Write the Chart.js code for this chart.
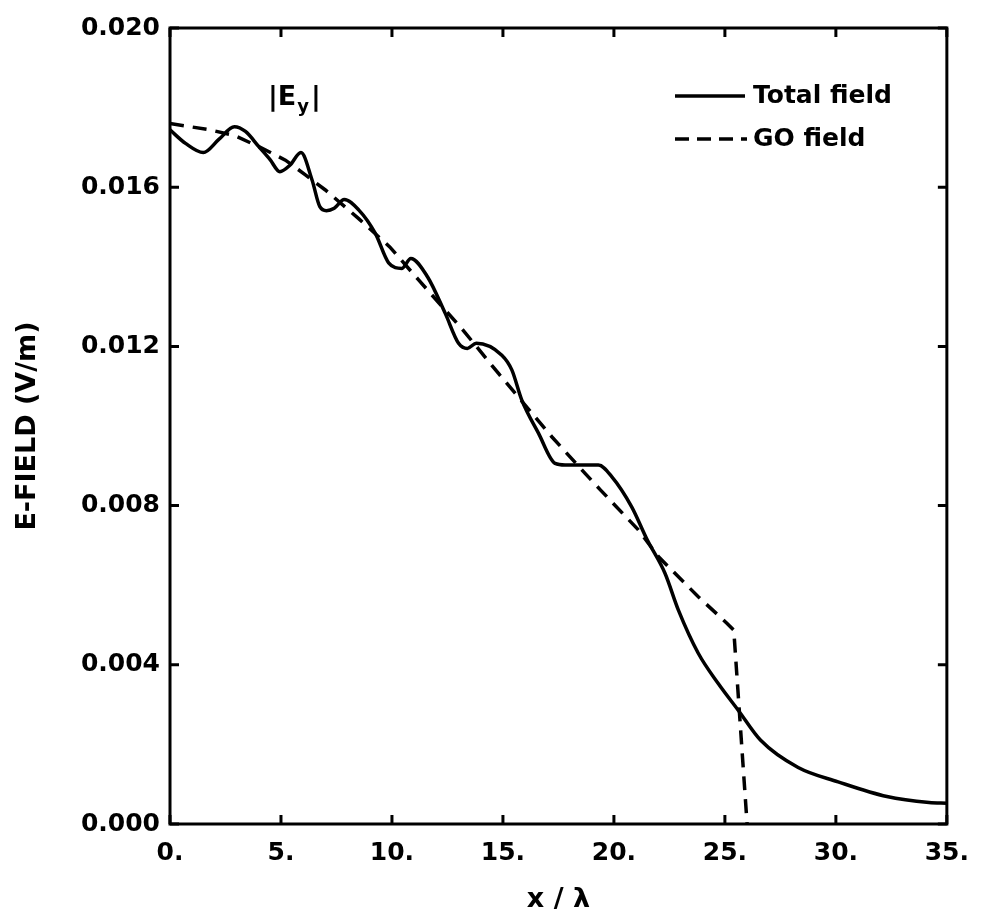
<!DOCTYPE html>
<html>
<head>
<meta charset="utf-8">
<script src="https://cdn.jsdelivr.net/npm/chart.js@4.4.1/dist/chart.umd.min.js"></script>
<style>
  html, body { margin: 0; padding: 0; background: #fff; }
  #wrap { width: 983px; height: 922px; }
</style>
</head>
<body>
<div id="wrap"><canvas id="efield-chart" width="983" height="922"></canvas></div>
<script>
// values (x in wavelengths, field in V/m)
const totalX = [0, 0.7, 1.5, 2.2, 2.9, 3.4, 4.0, 4.5, 4.95, 5.4, 5.9, 6.4, 6.75, 7.05, 7.4, 7.85, 8.5, 9.25, 9.85, 10.45, 10.85, 11.6, 12.4, 13.0, 13.4, 13.8, 14.95, 15.4, 15.85, 16.6, 17.35, 17.8, 19.3, 19.9, 20.8, 21.5, 22.3, 22.9, 23.8, 24.7, 25.6, 26.6, 28.3, 30.1, 32.3, 34.2, 35];
const totalY = [0.01744, 0.0171, 0.01687, 0.0172, 0.01752, 0.0174, 0.01702, 0.0167, 0.01639, 0.01655, 0.01687, 0.01618, 0.01551, 0.01541, 0.01547, 0.01569, 0.01543, 0.01484, 0.0141, 0.01396, 0.01421, 0.01375, 0.01283, 0.01208, 0.01195, 0.01208, 0.01178, 0.01141, 0.01065, 0.00982, 0.00906, 0.00902, 0.00902, 0.00873, 0.00797, 0.00714, 0.0063, 0.00538, 0.00429, 0.00353, 0.00286, 0.00211, 0.00142, 0.00106, 0.00069, 0.00054, 0.00052];
const goX = [0, 1.8, 2.9, 4.0, 5.2, 6.1, 7.0, 8.5, 9.9, 11.2, 13.2, 14.8, 17.2, 18.7, 19.4, 21.1, 22.0, 23.8, 25.1, 25.4, 26.0];
const goY = [0.0176, 0.01744, 0.0173, 0.01702, 0.01668, 0.01631, 0.01593, 0.01521, 0.0145, 0.01367, 0.01241, 0.01132, 0.00973, 0.00881, 0.00839, 0.00739, 0.00672, 0.00571, 0.00504, 0.00487, 0];
const xTicks = [0, 5, 10, 15, 20, 25, 30, 35];
const yTicks = [0, 0.004, 0.008, 0.012, 0.016, 0.020];

const FONT = "'DejaVu Sans', sans-serif";
const toPoints = (xs, ys) => xs.map((x, i) => ({ x: x, y: ys[i] }));

// frame, inward ticks, legend and the |Ey| label
const framePlugin = {
  id: "frame",
  afterDraw(chart) {
    const ctx = chart.ctx;
    const a = chart.chartArea;
    const xs = chart.scales.x;
    const ys = chart.scales.y;
    const tl = 9;
    ctx.save();
    ctx.strokeStyle = "#000";
    ctx.lineWidth = 3;
    ctx.strokeRect(a.left, a.top, a.right - a.left, a.bottom - a.top);
    ctx.beginPath();
    xTicks.forEach((v) => {
      const px = xs.getPixelForValue(v);
      ctx.moveTo(px, a.bottom); ctx.lineTo(px, a.bottom - tl);
      ctx.moveTo(px, a.top); ctx.lineTo(px, a.top + tl);
    });
    yTicks.forEach((v) => {
      const py = ys.getPixelForValue(v);
      ctx.moveTo(a.left, py); ctx.lineTo(a.left + tl, py);
      ctx.moveTo(a.right, py); ctx.lineTo(a.right - tl, py);
    });
    ctx.stroke();

    // legend
    const lx = a.left + 505;
    ctx.lineWidth = 3.5;
    ctx.beginPath();
    ctx.moveTo(lx, a.top + 68); ctx.lineTo(lx + 70, a.top + 68);
    ctx.stroke();
    ctx.setLineDash([14, 8]);
    ctx.beginPath();
    ctx.moveTo(lx, a.top + 111); ctx.lineTo(lx + 72, a.top + 111);
    ctx.stroke();
    ctx.setLineDash([]);
    ctx.fillStyle = "#000";
    ctx.font = "bold 25px " + FONT;
    ctx.textBaseline = "middle";
    ctx.textAlign = "left";
    ctx.fillText("Total field", lx + 78, a.top + 68);
    ctx.fillText("GO field", lx + 78, a.top + 111);

    // |Ey| label
    const ex = a.left + 98;
    const ey = a.top + 70;
    ctx.font = "bold 27px " + FONT;
    ctx.fillText("|E", ex, ey);
    const w1 = ctx.measureText("|E").width;
    ctx.font = "bold 18px " + FONT;
    ctx.fillText("y", ex + w1 + 1, ey + 9);
    const w2 = ctx.measureText("y").width;
    ctx.font = "bold 27px " + FONT;
    ctx.fillText("|", ex + w1 + w2 + 3, ey);
    ctx.restore();
  },
};

new Chart(document.getElementById("efield-chart"), {
  type: "line",
  data: {
    datasets: [
      {
        label: "Total field",
        data: toPoints(totalX, totalY),
        borderColor: "#000",
        borderWidth: 3.5,
        pointRadius: 0,
        cubicInterpolationMode: "monotone",
        fill: false,
      },
      {
        label: "GO field",
        data: toPoints(goX, goY),
        borderColor: "#000",
        borderWidth: 3.5,
        borderDash: [14, 9],
        pointRadius: 0,
        tension: 0,
        fill: false,
      },
    ],
  },
  options: {
    responsive: false,
    animation: false,
    layout: { padding: { top: 28, right: 32, left: 0, bottom: 0 } },
    plugins: {
      legend: { display: false },
      tooltip: { enabled: false },
    },
    scales: {
      x: {
        type: "linear",
        min: 0,
        max: 35,
        grid: { display: false, drawTicks: false },
        border: { display: false },
        afterBuildTicks: (s) => { s.ticks = xTicks.map((v) => ({ value: v })); },
        afterFit: (s) => { s.height = 98; },
        ticks: {
          color: "#000",
          padding: 14,
          maxRotation: 0,
          font: { family: FONT, size: 25, weight: "bold" },
          callback: (v) => v + ".",
        },
        title: {
          display: true,
          text: "x / λ",
          color: "#000",
          padding: { top: 14, bottom: 6 },
          font: { family: FONT, size: 27, weight: "bold" },
        },
      },
      y: {
        min: 0,
        max: 0.02,
        grid: { display: false, drawTicks: false },
        border: { display: false },
        afterBuildTicks: (s) => { s.ticks = yTicks.map((v) => ({ value: v })); },
        afterFit: (s) => { s.width = 170; },
        ticks: {
          color: "#000",
          padding: 10,
          font: { family: FONT, size: 25, weight: "bold" },
          callback: (v) => v.toFixed(3),
        },
        title: {
          display: true,
          text: "E-FIELD (V/m)",
          color: "#000",
          padding: { top: 12, bottom: 0 },
          font: { family: FONT, size: 27, weight: "bold" },
        },
      },
    },
  },
  plugins: [framePlugin],
});
</script>
</body>
</html>
